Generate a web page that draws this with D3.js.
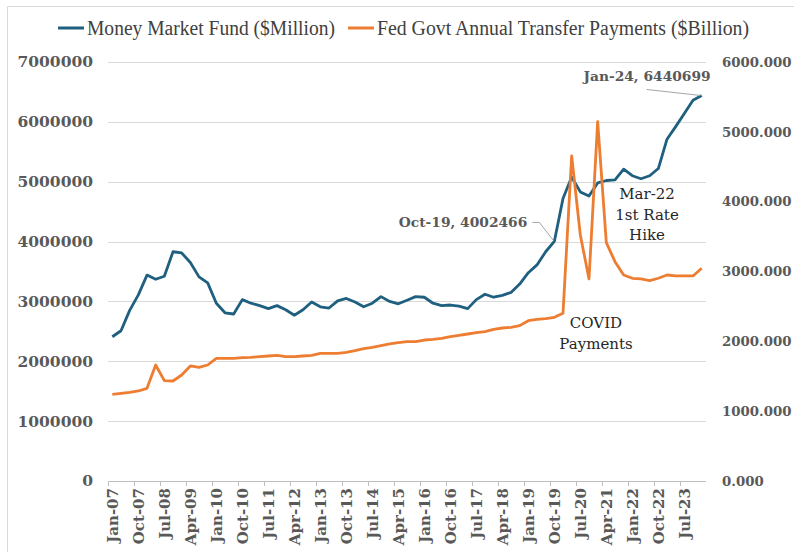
<!DOCTYPE html>
<html>
<head>
<meta charset="utf-8">
<script src="https://cdn.jsdelivr.net/npm/d3@7"></script>
<style>
  body { margin: 0; background: #fff; }
  svg { display: block; }
</style>
</head>
<body>
<svg></svg>
<script>
// quarterly categories, Jan-07 .. Jan-24
var quarters = [
  "Jan-07","Apr-07","Jul-07","Oct-07","Jan-08","Apr-08","Jul-08","Oct-08",
  "Jan-09","Apr-09","Jul-09","Oct-09","Jan-10","Apr-10","Jul-10","Oct-10",
  "Jan-11","Apr-11","Jul-11","Oct-11","Jan-12","Apr-12","Jul-12","Oct-12",
  "Jan-13","Apr-13","Jul-13","Oct-13","Jan-14","Apr-14","Jul-14","Oct-14",
  "Jan-15","Apr-15","Jul-15","Oct-15","Jan-16","Apr-16","Jul-16","Oct-16",
  "Jan-17","Apr-17","Jul-17","Oct-17","Jan-18","Apr-18","Jul-18","Oct-18",
  "Jan-19","Apr-19","Jul-19","Oct-19","Jan-20","Apr-20","Jul-20","Oct-20",
  "Jan-21","Apr-21","Jul-21","Oct-21","Jan-22","Apr-22","Jul-22","Oct-22",
  "Jan-23","Apr-23","Jul-23","Oct-23","Jan-24"
]

// Money Market Fund ($Million)
var moneyMarket = [
  2410000,2510000,2850000,3110000,3440000,3370000,3420000,3830000,
  3810000,3650000,3410000,3310000,2970000,2810000,2790000,3030000,
  2970000,2930000,2880000,2930000,2860000,2770000,2860000,2990000,
  2910000,2890000,3010000,3050000,2990000,2910000,2970000,3080000,
  3000000,2960000,3020000,3080000,3070000,2970000,2930000,2940000,
  2920000,2880000,3030000,3120000,3070000,3100000,3150000,3290000,
  3480000,3610000,3830000,4002466,4720000,5080000,4830000,4760000,
  4980000,5020000,5030000,5210000,5100000,5050000,5100000,5220000,
  5710000,5920000,6140000,6360000,6440699
]

// Fed Govt Annual Transfer Payments ($Billion)
var transfers = [
  1241,1256,1270,1289,1327,1661,1437,1432,
  1518,1647,1628,1661,1757,1757,1757,1766,
  1771,1780,1790,1800,1780,1780,1790,1800,
  1828,1828,1828,1842,1866,1895,1914,1938,
  1962,1981,1995,1995,2019,2029,2043,2067,
  2086,2105,2124,2138,2172,2191,2201,2225,
  2296,2315,2324,2344,2401,4654,3523,2893,
  5146,3413,3141,2950,2903,2893,2869,2903,
  2950,2936,2936,2936,3046
]

var leftTicks = [0,1000000,2000000,3000000,4000000,5000000,6000000,7000000]
var rightTicks = [0,1000,2000,3000,4000,5000,6000]
var seriesNames = ["Money Market Fund ($Million)","Fed Govt Annual Transfer Payments ($Billion)"]

var screen = {width:794,height:552}
var plot = {left:108,right:706,top:62,bottom:481}
var colors = {mmf:"#1f5f7f", tp:"#ed7d31", grid:"#d9d9d9", label:"#595959"}
var serif = "'DejaVu Serif', serif"

var svg = d3.select("svg")
  .attr("width",screen.width)
  .attr("height",screen.height)

// chart border (top/left visible only)
svg.append("line").attr("x1",7.5).attr("x2",screen.width).attr("y1",6.5).attr("y2",6.5)
  .attr("stroke","#d9d9d9")
svg.append("line").attr("x1",7.5).attr("x2",7.5).attr("y1",6.5).attr("y2",screen.height)
  .attr("stroke","#d9d9d9")

var xScale = d3.scaleBand().domain(quarters).range([plot.left,plot.right])
var cx = function(q){ return xScale(q) + xScale.bandwidth()/2 }
var yLeft = d3.scaleLinear().domain([0,7000000]).range([plot.bottom,plot.top])
var yRight = d3.scaleLinear().domain([0,6000]).range([plot.bottom,plot.top])

// gridlines
svg.append("g").selectAll("line")
  .data(leftTicks.slice(1))
  .enter().append("line")
  .attr("x1",plot.left).attr("x2",plot.right)
  .attr("y1",function(d){return Math.round(yLeft(d))+0.5})
  .attr("y2",function(d){return Math.round(yLeft(d))+0.5})
  .attr("stroke",colors.grid).attr("stroke-width",1.2)

// left axis
var gl = svg.append("g")
  .attr("transform","translate("+plot.left+",0)")
  .call(d3.axisLeft(yLeft).tickValues(leftTicks).tickSize(0).tickPadding(15).tickFormat(d3.format("d")))
gl.select(".domain").remove()
gl.selectAll("text").attr("fill",colors.label).style("font-family",serif)
  .style("font-weight","bold").style("font-size","15.5px")

// right axis
var gr = svg.append("g")
  .attr("transform","translate("+plot.right+",0)")
  .call(d3.axisRight(yRight).tickValues(rightTicks).tickSize(0).tickPadding(16).tickFormat(d3.format(".3f")))
gr.select(".domain").remove()
gr.selectAll("text").attr("fill",colors.label).style("font-family",serif)
  .style("font-weight","bold").style("font-size","13.3px")

// bottom axis: baseline, tick marks at category boundaries every 3 quarters, rotated labels
var labelled = quarters.filter(function(q,i){return i%3==0})
svg.append("line").attr("x1",plot.left).attr("x2",plot.right)
  .attr("y1",plot.bottom+0.5).attr("y2",plot.bottom+0.5).attr("stroke","#bfbfbf").attr("stroke-width",1.2)
svg.append("g").selectAll("line")
  .data(labelled)
  .enter().append("line")
  .attr("x1",function(q){return Math.round(xScale(q))+0.5})
  .attr("x2",function(q){return Math.round(xScale(q))+0.5})
  .attr("y1",plot.bottom).attr("y2",plot.bottom+5)
  .attr("stroke","#bfbfbf")

var gb = svg.append("g")
  .attr("transform","translate(0,"+plot.bottom+")")
  .call(d3.axisBottom(xScale).tickValues(labelled).tickSize(0))
gb.select(".domain").remove()
gb.selectAll("text")
  .attr("transform","rotate(-90)")
  .attr("text-anchor","end")
  .attr("x",-7).attr("y",0).attr("dy","0.36em")
  .attr("fill",colors.label).style("font-family",serif)
  .style("font-weight","bold").style("font-size","15px")

// lines
var lineLeft = d3.line().x(function(d,i){return cx(quarters[i])}).y(function(d){return yLeft(d)})
var lineRight = d3.line().x(function(d,i){return cx(quarters[i])}).y(function(d){return yRight(d)})

svg.append("path").datum(moneyMarket)
  .attr("d",lineLeft).attr("fill","none")
  .attr("stroke",colors.mmf).attr("stroke-width",2.8).attr("stroke-linejoin","round")

svg.append("path").datum(transfers)
  .attr("d",lineRight).attr("fill","none")
  .attr("stroke",colors.tp).attr("stroke-width",2.8).attr("stroke-linejoin","round")

// annotations
var iOct19 = quarters.indexOf("Oct-19")
var iJan24 = quarters.indexOf("Jan-24")
var pOct = [cx(quarters[iOct19]), yLeft(moneyMarket[iOct19])]
var pJan = [cx(quarters[iJan24]), yLeft(moneyMarket[iJan24])]

svg.append("path")
  .attr("d","M"+(pOct[0]-22)+","+(pOct[1]-19)+"L"+(pOct[0]-15)+","+(pOct[1]-19)+"L"+(pOct[0]-1)+","+(pOct[1]-1))
  .attr("fill","none").attr("stroke","#a6a6a6").attr("stroke-width",1)
svg.append("text").attr("x",pOct[0]-27).attr("y",pOct[1]-14)
  .attr("text-anchor","end").attr("fill",colors.label)
  .style("font-family",serif).style("font-weight","bold").style("font-size","13.8px")
  .text(quarters[iOct19]+", "+moneyMarket[iOct19])

svg.append("line")
  .attr("x1",pJan[0]-55).attr("y1",pJan[1]-6).attr("x2",pJan[0]-1).attr("y2",pJan[1])
  .attr("stroke","#a6a6a6").attr("stroke-width",1)
svg.append("text").attr("x",pJan[0]+9).attr("y",pJan[1]-14)
  .attr("text-anchor","end").attr("fill",colors.label)
  .style("font-family",serif).style("font-weight","bold").style("font-size","13.8px")
  .text(quarters[iJan24]+", "+moneyMarket[iJan24])

var notes = [
  {lines:["COVID","Payments"], x:596, y:328},
  {lines:["Mar-22","1st Rate","Hike"], x:647, y:199}
]
notes.forEach(function(n){
  var t = svg.append("text").attr("text-anchor","middle").attr("fill","#262626")
    .style("font-family",serif).style("font-size","15px")
  n.lines.forEach(function(l,i){
    t.append("tspan").attr("x",n.x).attr("y",n.y+i*20.5).text(l)
  })
})

// legend
var legend = [
  {name:seriesNames[0], color:colors.mmf, x:58, w:248},
  {name:seriesNames[1], color:colors.tp, x:348, w:372}
]
legend.forEach(function(l){
  svg.append("line").attr("x1",l.x).attr("x2",l.x+26).attr("y1",28).attr("y2",28)
    .attr("stroke",l.color).attr("stroke-width",3)
  svg.append("text").attr("x",l.x+29).attr("y",34.5)
    .attr("textLength",l.w).attr("lengthAdjust","spacingAndGlyphs")
    .attr("fill","#404040").style("font-family","'Liberation Serif', serif").style("font-size","20px")
    .text(l.name)
})
</script>
</body>
</html>
